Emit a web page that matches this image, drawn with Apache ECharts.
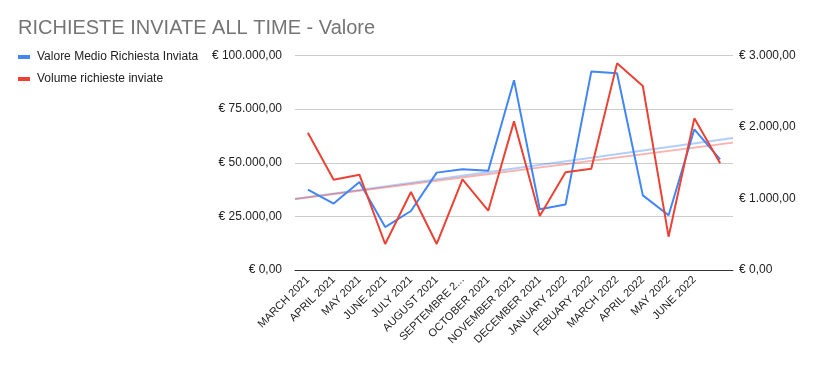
<!DOCTYPE html>
<html>
<head>
<meta charset="utf-8">
<script src="https://cdn.jsdelivr.net/npm/echarts@6/dist/echarts.min.js"></script>
<style>html,body{margin:0;padding:0;background:#fff}#c{width:814px;height:369px}</style>
</head>
<body>
<div id="c"></div>
<script>
var categories = ["MARCH 2021","APRIL 2021","MAY 2021","JUNE 2021","JULY 2021","AUGUST 2021","SEPTEMBRE 2021","OCTOBER 2021","NOVEMBER 2021","DECEMBER 2021","JANUARY 2022","FEBUARY 2022","MARCH 2022","APRIL 2022","MAY 2022","JUNE 2022",""];
var valoreMedio = [37500,31000,41000,20000,27500,45400,47000,46300,88500,28300,30500,92500,91700,34800,25500,65600,51600];
var volume = [1920,1263,1333,364,1091,364,1268,830,2079,755,1366,1417,2890,2573,466,2121,1492];
var leftTicks = {min:0, max:100000, interval:25000};
var rightTicks = {min:0, max:3000, interval:1000};
var seriesNames = ["Valore Medio Richiesta Inviata","Volume richieste inviate"];

function fmtEuro(v){
  var s = Math.round(v).toString().replace(/\B(?=(\d{3})+(?!\d))/g, '.');
  return '€ ' + s + ',00';
}
function trend(arr){
  var n = arr.length, mx = (n-1)/2, my = 0;
  arr.forEach(function(v){ my += v; }); my /= n;
  var sxy = 0, sxx = 0;
  arr.forEach(function(v,i){ sxy += (i-mx)*(v-my); sxx += (i-mx)*(i-mx); });
  var b = sxy/sxx, a = my - b*mx;
  return [[-0.5, a + b*(-0.5)], [n-0.5, a + b*(n-0.5)]];
}

var FONT = 'Liberation Sans, Arial, sans-serif';
var chart = echarts.init(document.getElementById('c'), null, {renderer:'canvas'});
chart.setOption({
  animation:false,
  backgroundColor:'#fff',
  title:{text:'RICHIESTE INVIATE ALL TIME - Valore', left:13, top:13,
    textStyle:{fontFamily:FONT, fontSize:20, fontWeight:'normal', color:'#757575'}},
  legend:{orient:'vertical', left:13, top:45, itemWidth:12, itemHeight:4, itemGap:8,
    icon:'rect', data:seriesNames,
    textStyle:{fontFamily:FONT, fontSize:12, color:'#222', lineHeight:14, padding:[0,0,0,2]}},
  grid:{left:295, right:81, top:55.5, bottom:99, containLabel:false},
  xAxis:[{type:'category', data:categories, boundaryGap:true,
      axisLine:{lineStyle:{color:'#333', width:1}}, axisTick:{show:false},
      axisLabel:{rotate:45, interval:0, margin:8, fontFamily:FONT, fontSize:11, color:'#222',
        formatter:function(s){ return s.length>13 ? s.slice(0,11)+'...' : s; }}},
    {type:'value', min:-0.5, max:categories.length-0.5, show:false}],
  yAxis:[{type:'value', min:leftTicks.min, max:leftTicks.max, interval:leftTicks.interval,
      axisLine:{show:false}, axisTick:{show:false},
      splitLine:{lineStyle:{color:'#cccccc'}},
      axisLabel:{formatter:fmtEuro, fontFamily:FONT, fontSize:12, color:'#222', margin:13}},
    {type:'value', min:rightTicks.min, max:rightTicks.max, interval:rightTicks.interval,
      axisLine:{show:false}, axisTick:{show:false}, splitLine:{show:false},
      axisLabel:{formatter:fmtEuro, fontFamily:FONT, fontSize:12, color:'#222', margin:6}}],
  series:[
    {name:'trend1', type:'line', xAxisIndex:1, yAxisIndex:0, data:trend(valoreMedio), symbol:'none',
      lineStyle:{color:'rgba(66,133,244,0.4)', width:2}, z:1, silent:true},
    {name:'trend2', type:'line', xAxisIndex:1, yAxisIndex:1, data:trend(volume), symbol:'none',
      lineStyle:{color:'rgba(234,67,53,0.4)', width:2}, z:1, silent:true},
    {name:seriesNames[0], type:'line', xAxisIndex:0, yAxisIndex:0, data:valoreMedio, symbol:'none',
      itemStyle:{color:'#4285F4'}, lineStyle:{color:'#4285F4', width:2}, z:3},
    {name:seriesNames[1], type:'line', xAxisIndex:0, yAxisIndex:1, data:volume, symbol:'none',
      itemStyle:{color:'#EA4335'}, lineStyle:{color:'#EA4335', width:2}, z:4}
  ]
});
</script>
</body>
</html>
